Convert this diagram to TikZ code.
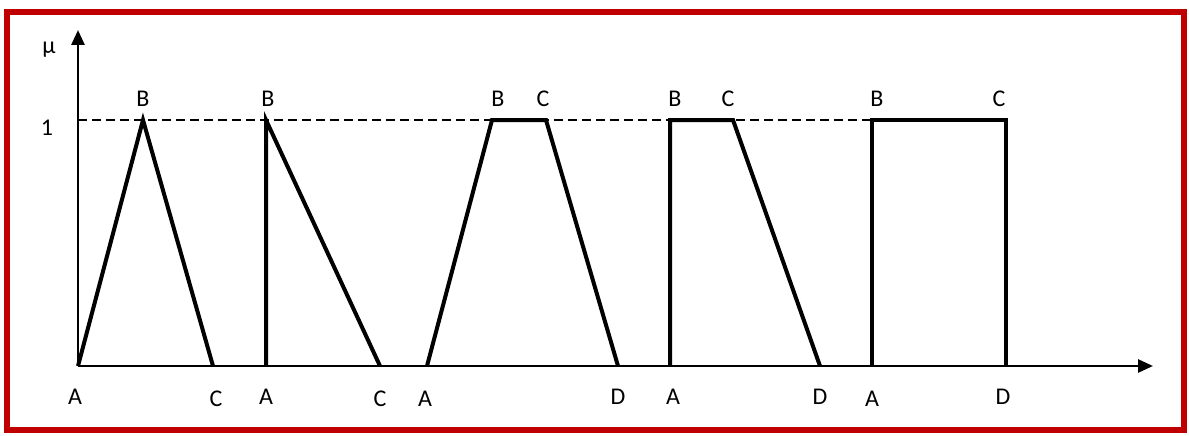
\documentclass[tikz,border=0pt]{standalone}
\usepackage{fontspec}
\setmainfont{Carlito}
\usetikzlibrary{arrows.meta}
\definecolor{frame}{RGB}{192,0,0}
\begin{document}
\begin{tikzpicture}[x=1pt,y=-1pt,
  lbl/.style={font=\fontsize{24}{27}\selectfont,inner sep=0pt,anchor=center},
  mfline/.style={line width=4pt,line join=miter},
  axis/.style={line width=2.7pt,-{Triangle[length=15pt,width=13pt]}},
  refline/.style={line width=2pt,dash pattern=on 8.5pt off 5.5pt}]
\useasboundingbox (0,0) rectangle (1189,436);
\draw[frame,line width=6pt] (6.5,12) rectangle (1184,430);
% axes
\coordinate (O) at (78,366);
\coordinate (Ytop) at (78,30);
\coordinate (Xend) at (1153,366);
\coordinate (Lone) at (78,120);
\coordinate (Rone) at (1006,120);
\draw[refline] (Lone) -- (Rone);
\draw[axis] (O) -- (Xend);
\draw[axis] (O) -- (Ytop);
\node[lbl] (mu) at (49,50) {μ};
\node[lbl] (one) at (47,128) {1};
% shape 1
\coordinate (a1) at (78,366); \coordinate (b1) at (143,120); \coordinate (c1) at (213,366);
\draw[mfline] (a1) -- (b1) -- (c1);
% shape 2
\coordinate (a2) at (266,366); \coordinate (b2) at (266,120); \coordinate (c2) at (380,366);
\draw[mfline] (a2) -- (b2) -- (c2);
% shape 3
\coordinate (a3) at (427,366); \coordinate (b3) at (492,120); \coordinate (c3) at (546,120); \coordinate (d3) at (618,366);
\draw[mfline] (a3) -- (b3) -- (c3) -- (d3);
% shape 4
\coordinate (a4) at (670,366); \coordinate (b4) at (670,120); \coordinate (c4) at (733,120); \coordinate (d4) at (820,366);
\draw[mfline] (a4) -- (b4) -- (c4) -- (d4);
% shape 5
\coordinate (a5) at (872,366); \coordinate (b5) at (872,120); \coordinate (c5) at (1006,120); \coordinate (d5) at (1006,366);
\draw[mfline] (a5) -- (b5) -- (c5) -- (d5);
% top labels
\node[lbl] (tb1) at (143,99) {B};
\node[lbl] (tb2) at (268,99) {B};
\node[lbl] (tb3) at (498,99) {B};
\node[lbl] (tc3) at (543,99) {C};
\node[lbl] (tb4) at (675,99) {B};
\node[lbl] (tc4) at (728,99) {C};
\node[lbl] (tb5) at (877,99) {B};
\node[lbl] (tc5) at (999,99) {C};
% bottom labels
\node[lbl] (la1) at (75,397) {A};
\node[lbl] (lc1) at (216,399) {C};
\node[lbl] (la2) at (266,397) {A};
\node[lbl] (lc2) at (380,399) {C};
\node[lbl] (la3) at (425,399) {A};
\node[lbl] (ld3) at (618,397) {D};
\node[lbl] (la4) at (673,397) {A};
\node[lbl] (ld4) at (820,397) {D};
\node[lbl] (la5) at (872,399) {A};
\node[lbl] (ld5) at (1003,397) {D};
\end{tikzpicture}
\end{document}
